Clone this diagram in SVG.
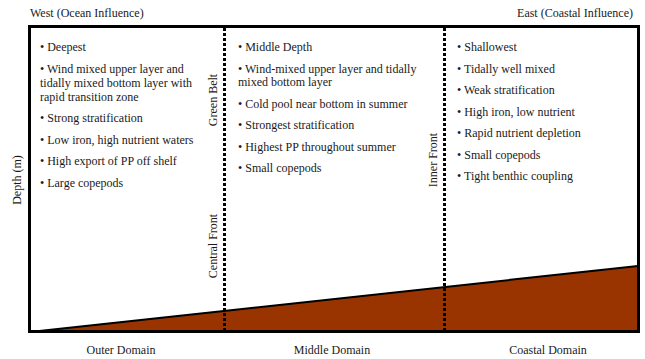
<svg xmlns="http://www.w3.org/2000/svg" width="645" height="359" viewBox="0 0 645 359">
<style>
text{font-family:"Liberation Serif","Times New Roman",serif;font-size:12px;fill:#1a1a1a}
.front{stroke:#000;stroke-width:3;stroke-dasharray:3 2;fill:none}
.mid{text-anchor:middle}
</style>
<rect width="645" height="359" fill="#fff"/>
<g id="seabed">
<polygon points="30,332 638,266 638,332" fill="#993300"/>
<line x1="30" y1="332" x2="638" y2="266" stroke="#000" stroke-width="2"/>
</g>
<g id="frame">
<rect x="29.5" y="26.5" width="609" height="305" fill="none" stroke="#000" stroke-width="3"/>
</g>
<g id="connectors">
<line class="front" x1="224.5" y1="28" x2="224.5" y2="330"/>
<line class="front" x1="444.5" y1="28" x2="444.5" y2="330"/>
</g>
<g id="labels">
<text x="30" y="17">West (Ocean Influence)</text>
<text x="633" y="17" text-anchor="end">East (Coastal  Influence)</text>
<text transform="translate(21,180) rotate(-90)" class="mid">Depth (m)</text>
<text transform="translate(217,100) rotate(-90)" class="mid">Green Belt</text>
<text transform="translate(217,246) rotate(-90)" class="mid">Central Front</text>
<text transform="translate(437,160) rotate(-90)" class="mid">Inner Front</text>
<text x="121" y="354" class="mid">Outer Domain</text>
<text x="332" y="354" class="mid">Middle Domain</text>
<text x="548" y="354" class="mid">Coastal Domain</text>
</g>
<g id="outer-domain">
<text x="40" y="51">• Deepest</text>
<text x="40" y="73">• Wind mixed upper layer and</text>
<text x="40" y="87">tidally mixed bottom layer with</text>
<text x="40" y="101">rapid  transition zone</text>
<text x="40" y="122">• Strong stratification</text>
<text x="40" y="144">• Low iron, high nutrient waters</text>
<text x="40" y="165">• High export of PP off shelf</text>
<text x="40" y="187">• Large copepods</text>
</g>
<g id="middle-domain">
<text x="238" y="51">• Middle Depth</text>
<text x="238" y="73">• Wind-mixed upper layer and tidally</text>
<text x="238" y="86">mixed bottom layer</text>
<text x="238" y="108">• Cold pool near bottom in summer</text>
<text x="238" y="129">• Strongest stratification</text>
<text x="238" y="151">• Highest PP throughout summer</text>
<text x="238" y="172">• Small copepods</text>
</g>
<g id="coastal-domain">
<text x="457" y="51">• Shallowest</text>
<text x="457" y="73">• Tidally well mixed</text>
<text x="457" y="94">• Weak stratification</text>
<text x="457" y="116">• High iron, low nutrient</text>
<text x="457" y="137">• Rapid nutrient depletion</text>
<text x="457" y="159">• Small copepods</text>
<text x="457" y="180">• Tight benthic coupling</text>
</g>
</svg>
